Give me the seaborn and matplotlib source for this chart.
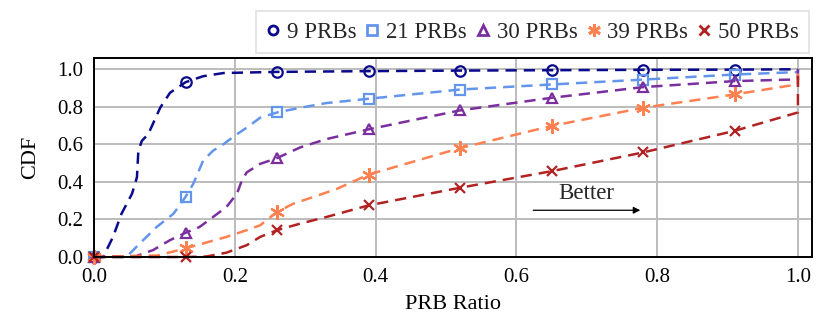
import numpy as np
import matplotlib
matplotlib.use("Agg")
import matplotlib.pyplot as plt
import seaborn as sns
from matplotlib.lines import Line2D

# marker positions shared by every curve
mark_x = [0.0, 0.13, 0.26, 0.39, 0.52, 0.65, 0.78, 0.91]

labels = ["9 PRBs", "21 PRBs", "30 PRBs", "39 PRBs", "50 PRBs"]
colors = ["#0a0a8c", "#6495ED", "#7B2F9E", "#FF8050", "#B22222"]
markers = ["o", "s", "^", (6, 2, 0), "x"]
msizes = [7.5, 7.5, 7.5, 10.5, 7.5]

x_9 = [0, 0.013, 0.027, 0.039, 0.054, 0.061, 0.063, 0.068, 0.077, 0.094, 0.108,
       0.13, 0.155, 0.184, 0.26, 0.39, 0.52, 0.65, 0.78, 0.91, 1.0]
y_9 = [0, 0, 0.107, 0.23, 0.337, 0.425, 0.566, 0.619, 0.654, 0.795, 0.875,
       0.931, 0.963, 0.98, 0.986, 0.99, 0.993, 0.995, 0.997, 0.998, 1.0]

x_21 = [0, 0.046, 0.065, 0.089, 0.113, 0.13, 0.141, 0.155, 0.169, 0.184, 0.203,
        0.217, 0.236, 0.26, 0.293, 0.33, 0.39, 0.52, 0.65, 0.78, 0.91, 1.0, 1.0]
y_21 = [0, 0, 0.072, 0.16, 0.231, 0.32, 0.39, 0.513, 0.566, 0.601, 0.654,
        0.689, 0.742, 0.77, 0.795, 0.82, 0.843, 0.892, 0.919, 0.945, 0.972, 0.985, 1.0]

x_30 = [0, 0.06, 0.084, 0.108, 0.13, 0.15, 0.169, 0.188, 0.203, 0.21, 0.217,
        0.236, 0.26, 0.293, 0.33, 0.39, 0.52, 0.65, 0.78, 0.91, 1.0, 1.0]
y_30 = [0, 0.005, 0.037, 0.09, 0.129, 0.16, 0.213, 0.266, 0.337, 0.407, 0.451,
        0.496, 0.527, 0.584, 0.628, 0.68, 0.781, 0.848, 0.905, 0.937, 0.946, 1.0]

x_39 = [0, 0.09, 0.13, 0.188, 0.217, 0.236, 0.26, 0.283, 0.311, 0.345, 0.39,
        0.52, 0.65, 0.78, 0.91, 1.0, 1.0]
y_39 = [0, 0.008, 0.046, 0.107, 0.143, 0.169, 0.24, 0.284, 0.319, 0.363, 0.439,
        0.58, 0.698, 0.795, 0.866, 0.92, 1.0]

x_50 = [0, 0.13, 0.16, 0.188, 0.217, 0.236, 0.26, 0.293, 0.33, 0.39, 0.52,
        0.65, 0.78, 0.91, 1.0, 1.0]
y_50 = [0, 0, 0.003, 0.023, 0.063, 0.107, 0.143, 0.178, 0.213, 0.275, 0.369,
        0.457, 0.557, 0.672, 0.77, 1.0]

curves = [(x_9, y_9), (x_21, y_21), (x_30, y_30), (x_39, y_39), (x_50, y_50)]

sns.set_theme(style="whitegrid")
plt.rcParams["font.family"] = ["Liberation Serif", "DejaVu Serif"]

fig = plt.figure(figsize=(8.29, 3.29), dpi=100)
ax = fig.add_axes([0.1134, 0.2188, 0.8661, 0.6049])

for (xs, ys), lab, col, mk, ms in zip(curves, labels, colors, markers, msizes):
    xs = np.array(xs)
    idx = [int(np.where(np.isclose(xs, m))[0][0]) for m in mark_x]
    sns.lineplot(x=xs, y=ys, ax=ax, estimator=None, sort=False, color=col,
                 linestyle="--", dashes=False, linewidth=1.8, marker=mk,
                 markevery=idx, markersize=ms, markeredgewidth=1.6,
                 markerfacecolor="none", markeredgecolor=col, clip_on=False)
    ax.lines[-1].set_dashes((4.5, 2.8))

ax.set_xlim(0, 1.02)
ax.set_ylim(0, 1.06)
ax.set_xticks([0, 0.2, 0.4, 0.6, 0.8, 1.0])
ax.set_yticks([0, 0.2, 0.4, 0.6, 0.8, 1.0])
ax.set_xticklabels(["0.0", "0.2", "0.4", "0.6", "0.8", "1.0"])
ax.set_yticklabels(["0.0", "0.2", "0.4", "0.6", "0.8", "1.0"])
ax.tick_params(axis="both", labelsize=15, length=0, pad=8, colors="black")
ax.grid(True, color="#bcbcbc", linewidth=1.4)
for sp in ax.spines.values():
    sp.set_color("black")
    sp.set_linewidth(1.4)
ax.set_xlabel("PRB Ratio", fontsize=16, color="black", labelpad=6)
ax.set_ylabel("CDF", fontsize=16, color="black", labelpad=12)

ax.annotate("", xy=(0.78, 0.249), xytext=(0.62, 0.249),
            arrowprops=dict(arrowstyle="-|>", color="black", lw=0.9,
                            mutation_scale=10))
ax.text(0.70, 0.34, "Better", ha="center", va="center", fontsize=16.5)

handles = [Line2D([], [], linestyle="none", marker=mk, color=col,
                  markerfacecolor="none", markersize=ms * 0.87, markeredgewidth=2.0)
           for col, mk, ms in zip(colors, markers, msizes)]
leg = fig.legend(handles, labels, loc="upper right", bbox_to_anchor=(0.99, 1.0),
                 ncol=5, fontsize=16.5, frameon=True, fancybox=False,
                 handlelength=0.6, handletextpad=0.3, columnspacing=0.4,
                 borderpad=0.45)
leg.get_frame().set_edgecolor("#d8d8d8")
leg.get_frame().set_linewidth(1.2)

fig.savefig("out.png", dpi=100)
